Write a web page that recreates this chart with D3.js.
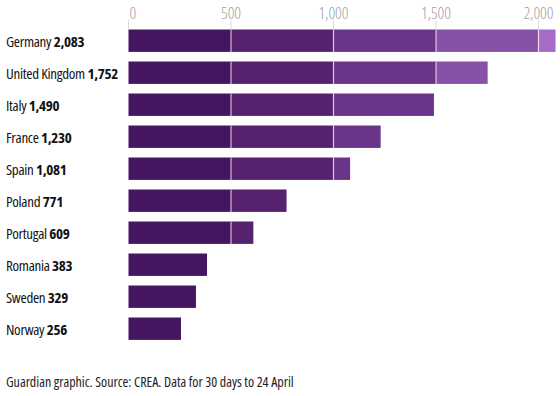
<!DOCTYPE html>
<html>
<head>
  <script src="https://cdn.jsdelivr.net/npm/d3@7"></script>
  <style>
    body { margin: 0; background: #fff; }
    text { font-family: "Open Sans", sans-serif; font-stretch: condensed; }
  </style>
</head>
<body>
<div id="chart"></div>
<script lang="javascript">
  var countries = ['Germany', 'United Kingdom', 'Italy', 'France', 'Spain',
                   'Poland', 'Portugal', 'Romania', 'Sweden', 'Norway'];
  var values = [2083, 1752, 1490, 1230, 1081, 771, 609, 383, 329, 256];
  var ticks = [0, 500, 1000, 1500, 2000];
  var bandColors = ['#45165f', '#56226f', '#6a3489', '#8752a6', '#a56bc6'];
  var source = 'Guardian graphic. Source: CREA. Data for 30 days to 24 April';

  var width = 560, height = 396;

  var svg = d3.select('#chart').append('svg')
      .attr('width', width)
      .attr('height', height);

  var x = d3.scaleLinear()
      .domain([0, 2000])
      .range([128.5, 538.5]);

  var y = d3.scaleBand()
      .domain(countries)
      .range([24.7, 344.7])
      .paddingInner(0.3)
      .paddingOuter(0.15);

  // axis: tick marks and labels above the bars
  var axis = svg.append('g');
  axis.selectAll('line').data(ticks)
    .enter().append('line')
      .attr('x1', function(d) { return x(d); })
      .attr('x2', function(d) { return x(d); })
      .attr('y1', 20)
      .attr('y2', y(countries[0]))
      .attr('stroke', '#dcdcdc')
      .attr('stroke-width', 1);
  axis.selectAll('text').data(ticks)
    .enter().append('text')
      .attr('x', function(d) { return d === 0 ? x(d) + 1 : x(d); })
      .attr('y', 19)
      .attr('text-anchor', function(d) { return d === 0 ? 'start' : 'middle'; })
      .attr('font-size', 16.5)
      .attr('font-weight', 300)
      .attr('fill', '#a0a0a0')
      .text(d3.format(','));

  // bars split into 500-wide bands
  var rows = svg.selectAll('g.row').data(countries)
    .enter().append('g')
      .attr('class', 'row')
      .attr('transform', function(d) { return 'translate(0,' + y(d) + ')'; });

  rows.each(function(name, i) {
    var v = values[i];
    var segs = [];
    ticks.forEach(function(t, j) {
      var next = j < ticks.length - 1 ? ticks[j + 1] : Infinity;
      if (v > t) segs.push({ from: t, to: Math.min(v, next), color: bandColors[j] });
    });
    var g = d3.select(this);
    g.selectAll('rect').data(segs)
      .enter().append('rect')
        .attr('x', function(s) { return x(s.from); })
        .attr('width', function(s) { return x(s.to) - x(s.from); })
        .attr('height', y.bandwidth())
        .attr('fill', function(s) { return s.color; });
    g.selectAll('line').data(segs.slice(1))
      .enter().append('line')
        .attr('x1', function(s) { return x(s.from); })
        .attr('x2', function(s) { return x(s.from); })
        .attr('y1', 0)
        .attr('y2', y.bandwidth())
        .attr('stroke', 'rgba(255,255,255,0.7)')
        .attr('stroke-width', 1.2);
  });

  var labels = rows.append('text')
      .attr('x', 6)
      .attr('y', y.bandwidth() / 2)
      .attr('dy', '0.4em')
      .attr('font-size', 15)
      .attr('letter-spacing', -0.3)
      .attr('fill', '#121212');
  labels.append('tspan').text(function(d) { return d + ' '; });
  labels.append('tspan')
      .attr('font-weight', 'bold')
      .text(function(d, i) { return d3.format(',')(values[i]); });

  svg.append('text')
      .attr('x', 6)
      .attr('y', 387)
      .attr('font-size', 14)
      .attr('fill', '#222')
      .text(source);
</script>
</body>
</html>
